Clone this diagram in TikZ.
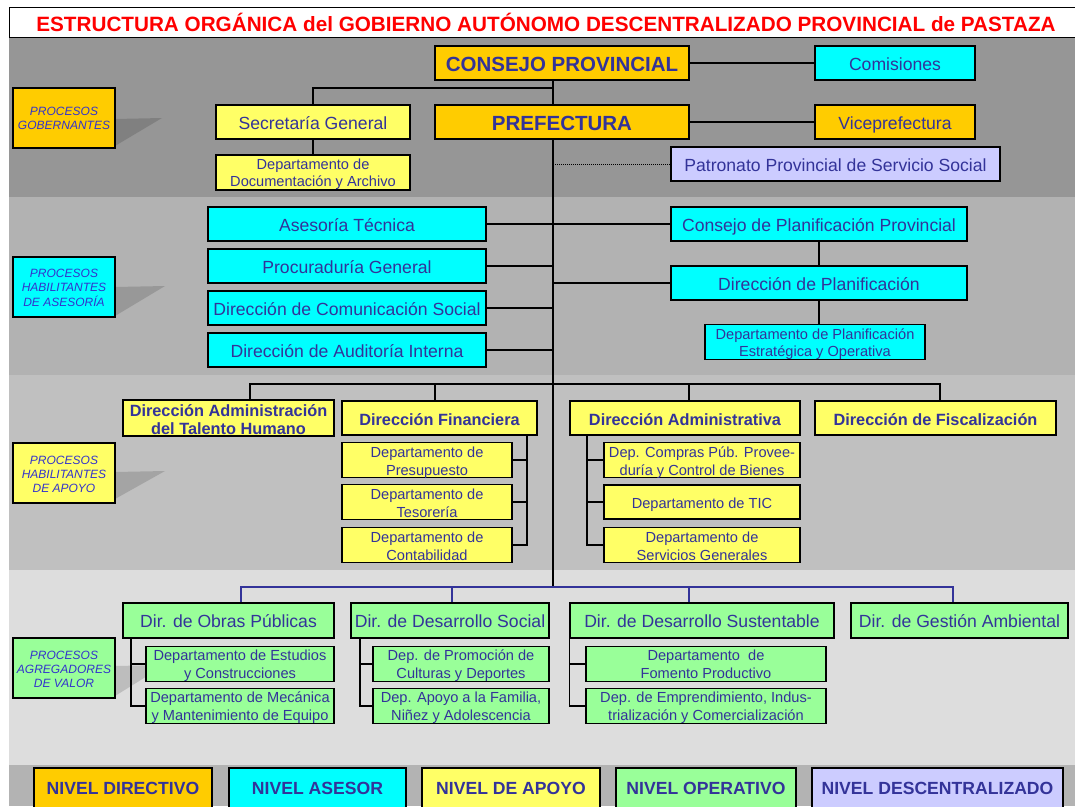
\documentclass[tikz,border=0pt]{standalone}
\usepackage{fontspec}
\setmainfont{Liberation Sans}
\definecolor{cOr}{HTML}{FFCC00}
\definecolor{cCy}{HTML}{00FFFF}
\definecolor{cYe}{HTML}{FFFF66}
\definecolor{cGr}{HTML}{99FF99}
\definecolor{cLa}{HTML}{CCCCFF}
\definecolor{cTx}{HTML}{333399}
\definecolor{cPr}{HTML}{3333CC}
\definecolor{cRed}{HTML}{FF0000}
\definecolor{cBa}{HTML}{969696}
\definecolor{cBb}{HTML}{B2B2B2}
\definecolor{cBc}{HTML}{C0C0C0}
\definecolor{cBd}{HTML}{DDDDDD}
\definecolor{cBe}{HTML}{B3B3B3}
\newcommand\myfA{\fontsize{20.5}{22}\bfseries\selectfont}
\newcommand\myfB{\fontsize{17.6}{19}\selectfont}
\newcommand\myfC{\fontsize{14.6}{17.5}\selectfont}
\newcommand\myfD{\fontsize{16.3}{18}\bfseries\selectfont}
\newcommand\myfE{\fontsize{12}{14}\itshape\selectfont}
\newcommand\myfL{\fontsize{17.6}{19}\bfseries\selectfont}
\newcommand\myfT{\fontsize{20.7}{22}\bfseries\selectfont}
% name, x1, y1, x2, y2, options, text, downward shift of the text
\newcommand\mybox[8]{\node[box,#6,minimum width={#4-#2},minimum height={#5-#3}] (#1) at ({(#2+#4)/2},{(#3+#5)/2}) {\raisebox{-#8pt}[\height][\depth]{\begin{tabular}{@{}c@{}}#7\end{tabular}}};}
\begin{document}
\begin{tikzpicture}[x=1pt,y=-1pt,
  box/.style={draw=black,line width=1.4pt,text=cTx,inner sep=0pt,align=center},
  ln/.style={line width=1.2pt,draw=black},
  bl/.style={line width=1.2pt,draw=cTx},
  shade/.style={fill=black,opacity=0.14}]
\useasboundingbox (0,0) rectangle (1075,806);
\clip (0,0) rectangle (1075,806);
\fill[white] (0,0) rectangle (1075,806);
% bands
\fill[cBa] (9,37) rectangle (1075,197);
\fill[cBb] (9,197) rectangle (1075,375);
\fill[cBc] (9,375) rectangle (1075,570);
\fill[cBd] (9,570) rectangle (1075,765);
\fill[cBe] (9,765) rectangle (1075,806);
\draw[line width=1pt,fill=white] (9,7) rectangle (1090,37);
\node[font=\myfT,text=cRed,inner sep=0pt] (title) at (546,22) {ESTRUCTURA ORGÁNICA del GOBIERNO AUTÓNOMO DESCENTRALIZADO PROVINCIAL de PASTAZA};
% shadow wedges
\fill[shade] (115,119) -- (162,118) -- (115,146) -- cycle;
\fill[shade] (115,287) -- (165,286) -- (115,316) -- cycle;
\fill[shade] (115,472) -- (165,471) -- (115,499) -- cycle;
\fill[shade] (115,666) -- (165,665) -- (115,696) -- cycle;
% band 1
\mybox{consejo}{435}{46}{689}{80}{fill=cOr,font=\myfA}{CONSEJO PROVINCIAL}{3.6}
\mybox{comis}{815}{46}{975}{80}{fill=cCy,font=\myfB}{Comisiones}{3.5}
\mybox{pref}{435}{105}{689}{139}{fill=cOr,font=\myfA}{PREFECTURA}{3.6}
\mybox{vice}{815}{105}{975}{139}{fill=cOr,font=\myfB}{Viceprefectura}{3.5}
\mybox{secre}{216}{105}{410}{139}{fill=cYe,font=\myfB}{Secretaría General}{3.5}
\mybox{docu}{216}{155}{410}{190}{fill=cYe,font=\myfC}{Departamento de\\Documentación y Archivo}{2}
\mybox{patro}{671}{147}{1000}{181}{fill=cLa,font=\myfB}{Patronato Provincial de Servicio Social}{3.5}
\mybox{pgob}{13}{88}{115}{148}{fill=cOr,font=\myfE,text=cPr}{PROCESOS\\GOBERNANTES}{1.2}
% band 2
\mybox{aseso}{208}{207}{486}{241}{fill=cCy,font=\myfB}{Asesoría Técnica}{3.5}
\mybox{procu}{208}{249}{486}{283}{fill=cCy,font=\myfB}{Procuraduría General}{3.5}
\mybox{comun}{208}{291}{486}{325}{fill=cCy,font=\myfB}{Dirección de Comunicación Social}{3.5}
\mybox{audit}{208}{333}{486}{367}{fill=cCy,font=\myfB}{Dirección de Auditoría Interna}{3.5}
\mybox{consplan}{671}{207}{967}{241}{fill=cCy,font=\myfB}{Consejo de Planificación Provincial}{3.5}
\mybox{dirplan}{671}{266}{967}{300}{fill=cCy,font=\myfB}{Dirección de Planificación}{3.5}
\mybox{depplan}{705}{325}{925}{359}{fill=cCy,font=\myfC}{Departamento de Planificación\\Estratégica y Operativa}{2.5}
\mybox{pases}{13}{257}{115}{317}{fill=cCy,font=\myfE,text=cPr}{PROCESOS\\HABILITANTES\\DE ASESORÍA}{2.3}
% band 3
\mybox{talento}{123}{401}{334}{435}{fill=cYe,font=\myfD}{Dirección Administración\\del Talento Humano}{3.7}
\mybox{finan}{342}{401}{537}{435}{fill=cYe,font=\myfD}{Dirección Financiera}{3.4}
\mybox{presu}{342}{443}{512}{477}{fill=cYe,font=\myfC}{Departamento de\\Presupuesto}{2.8}
\mybox{teso}{342}{485}{512}{519}{fill=cYe,font=\myfC}{Departamento de\\Tesorería}{2.8}
\mybox{conta}{342}{528}{512}{562}{fill=cYe,font=\myfC}{Departamento de\\Contabilidad}{2.8}
\mybox{admin}{570}{401}{800}{435}{fill=cYe,font=\myfD}{Dirección Administrativa}{3.4}
\mybox{compras}{604}{443}{800}{477}{fill=cYe,font=\myfC}{Dep. Compras Púb. Provee-\\duría y Control de Bienes}{2.8}
\mybox{tic}{604}{485}{800}{519}{fill=cYe,font=\myfC}{Departamento de TIC}{2.8}
\mybox{serv}{604}{528}{800}{562}{fill=cYe,font=\myfC}{Departamento de\\Servicios Generales}{2.8}
\mybox{fisc}{815}{401}{1056}{435}{fill=cYe,font=\myfD}{Dirección de Fiscalización}{3.4}
\mybox{papoyo}{13}{443}{115}{503}{fill=cYe,font=\myfE,text=cPr}{PROCESOS\\HABILITANTES\\DE APOYO}{2.3}
% band 4
\mybox{obras}{123}{603}{334}{638}{fill=cGr,font=\myfB}{Dir. de Obras Públicas}{3.5}
\mybox{estud}{146}{647}{334}{681}{fill=cGr,font=\myfC}{Departamento de Estudios\\y Construcciones}{2.2}
\mybox{meca}{146}{689}{334}{723}{fill=cGr,font=\myfC}{Departamento de Mecánica\\y Mantenimiento de Equipo}{2.2}
\mybox{social}{351}{603}{549}{638}{fill=cGr,font=\myfB}{Dir. de Desarrollo Social}{3.5}
\mybox{promo}{373}{647}{549}{681}{fill=cGr,font=\myfC}{Dep. de Promoción de\\Culturas y Deportes}{2.2}
\mybox{apoyo}{373}{689}{549}{723}{fill=cGr,font=\myfC}{Dep. Apoyo a la Familia,\\Niñez y Adolescencia}{2.2}
\mybox{susten}{570}{603}{834}{638}{fill=cGr,font=\myfB}{Dir. de Desarrollo Sustentable}{3.5}
\mybox{fomen}{586}{647}{826}{681}{fill=cGr,font=\myfC}{Departamento~ de\\Fomento Productivo}{2.2}
\mybox{empre}{586}{689}{826}{723}{fill=cGr,font=\myfC}{Dep. de Emprendimiento, Indus-\\trialización y Comercialización}{2.2}
\mybox{gestion}{851}{603}{1068}{638}{fill=cGr,font=\myfB}{Dir. de Gestión Ambiental}{3.5}
\mybox{pagreg}{13}{638}{115}{698}{fill=cGr,font=\myfE,text=cPr}{PROCESOS\\AGREGADORES\\DE VALOR}{2.3}
% legend
\mybox{lgA}{34}{768}{212}{808}{fill=cOr,font=\myfL}{NIVEL DIRECTIVO}{2.2}
\mybox{lgB}{229}{768}{406}{808}{fill=cCy,font=\myfL}{NIVEL ASESOR}{2.2}
\mybox{lgC}{422}{768}{600}{808}{fill=cYe,font=\myfL}{NIVEL DE APOYO}{2.2}
\mybox{lgD}{616}{768}{796}{808}{fill=cGr,font=\myfL}{NIVEL OPERATIVO}{2.2}
\mybox{lgE}{812}{768}{1063}{808}{fill=cLa,font=\myfL}{NIVEL DESCENTRALIZADO}{2.2}
% coordinates
\coordinate (trk) at (553,0);
\coordinate (hg) at (0,88);
\coordinate (vA) at (250,384);
\coordinate (vB) at (435,384);
\coordinate (vC) at (689,384);
\coordinate (vD) at (940,384);
\coordinate (bf) at (527,0);
\coordinate (ba) at (587,0);
\coordinate (wA) at (241,587);
\coordinate (wB) at (452,587);
\coordinate (wC) at (689,587);
\coordinate (wD) at (953,587);
\coordinate (bo) at (131,0);
\coordinate (bs) at (360,0);
% connectors band 1
\draw[ln] (consejo.south -| trk) -- (pref.north -| trk);
\draw[ln] (pref.south -| trk) -- (trk |- wA);
\draw[ln] (consejo.east) -- (comis.west);
\draw[ln] (pref.east) -- (vice.west);
\draw[ln] (trk |- hg) -- (secre.north |- hg) -- (secre.north);
\draw[ln] (secre.south) -- (docu.north);
\draw[line width=1pt,densely dotted] (trk |- patro.west) -- (patro.west);
% band 2
\draw[ln] (aseso.east) -- (aseso.east -| trk);
\draw[ln] (procu.east) -- (procu.east -| trk);
\draw[ln] (comun.east) -- (comun.east -| trk);
\draw[ln] (audit.east) -- (audit.east -| trk);
\draw[ln] (consplan.west -| trk) -- (consplan.west);
\draw[ln] (dirplan.west -| trk) -- (dirplan.west);
\draw[ln] (consplan.south) -- (dirplan.north);
\draw[ln] (dirplan.south) -- (dirplan.south |- depplan.north);
% band 3
\draw[ln] (vA |- talento.north) -- (vA) -- (vD) -- (vD |- fisc.north);
\draw[ln] (vB) -- (vB |- finan.north);
\draw[ln] (vC) -- (vC |- admin.north);
\draw[ln] (finan.south -| bf) -- (conta.east -| bf) -- (conta.east);
\draw[ln] (presu.east) -- (presu.east -| bf);
\draw[ln] (teso.east) -- (teso.east -| bf);
\draw[ln] (admin.south -| ba) -- (serv.west -| ba) -- (serv.west);
\draw[ln] (compras.west -| ba) -- (compras.west);
\draw[ln] (tic.west -| ba) -- (tic.west);
% band 4
\draw[bl] (wA |- obras.north) -- (wA) -- (wD) -- (wD |- gestion.north);
\draw[bl] (wB) -- (wB |- social.north);
\draw[bl] (wC) -- (wC |- susten.north);
\draw[ln] (obras.south -| bo) -- (meca.west -| bo) -- (meca.west);
\draw[ln] (estud.west -| bo) -- (estud.west);
\draw[ln] (social.south -| bs) -- (apoyo.west -| bs) -- (apoyo.west);
\draw[ln] (promo.west -| bs) -- (promo.west);
\draw[ln] (susten.south west) -- (empre.west -| susten.south west) -- (empre.west);
\draw[ln] (fomen.west -| susten.south west) -- (fomen.west);
\end{tikzpicture}
\end{document}
